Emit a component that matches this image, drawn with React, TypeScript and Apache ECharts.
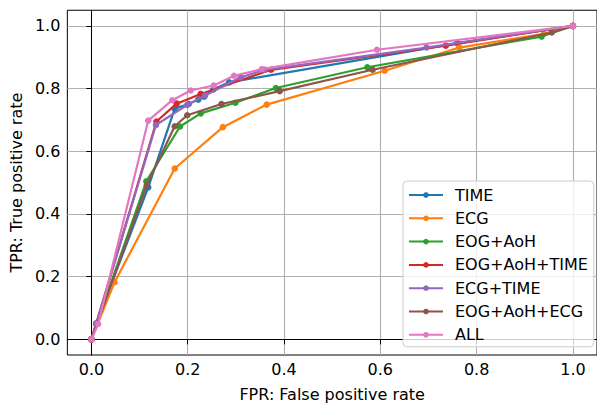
import React, { useEffect, useRef } from "react";
import * as echarts from "echarts";

const tickValues = [0, 0.2, 0.4, 0.6, 0.8, 1.0];
const seriesNames = ["TIME", "ECG", "EOG+AoH", "EOG+AoH+TIME", "ECG+TIME", "EOG+AoH+ECG", "ALL"];
const colors = ["#1f77b4", "#ff7f0e", "#2ca02c", "#d62728", "#9467bd", "#8c564b", "#e377c2"];

const timeFpr = [0, 0.01, 0.118, 0.173, 0.202, 0.222, 0.234, 0.253, 0.286, 0.76, 1];
const timeTpr = [0, 0.05, 0.485, 0.736, 0.751, 0.765, 0.774, 0.797, 0.82, 0.945, 1];
const ecgFpr = [0, 0.048, 0.173, 0.273, 0.364, 0.609, 0.764, 0.94, 1];
const ecgTpr = [0, 0.182, 0.545, 0.677, 0.749, 0.857, 0.931, 0.975, 1];
const eogFpr = [0, 0.114, 0.184, 0.227, 0.299, 0.383, 0.573, 0.935, 1];
const eogTpr = [0, 0.504, 0.679, 0.721, 0.755, 0.802, 0.868, 0.966, 1];
const eogTimeFpr = [0, 0.01, 0.135, 0.177, 0.227, 0.373, 0.736, 1];
const eogTimeTpr = [0, 0.05, 0.695, 0.752, 0.783, 0.86, 0.937, 1];
const ecgTimeFpr = [0, 0.01, 0.134, 0.199, 0.236, 0.31, 0.36, 0.696, 1];
const ecgTimeTpr = [0, 0.05, 0.684, 0.748, 0.778, 0.836, 0.86, 0.931, 1];
const eogEcgFpr = [0, 0.115, 0.173, 0.199, 0.27, 0.391, 0.584, 0.956, 1];
const eogEcgTpr = [0, 0.492, 0.68, 0.715, 0.751, 0.792, 0.86, 0.979, 1];
const allFpr = [0, 0.014, 0.118, 0.168, 0.206, 0.254, 0.296, 0.354, 0.593, 1];
const allTpr = [0, 0.049, 0.698, 0.763, 0.794, 0.81, 0.841, 0.862, 0.924, 1];

const fprs = [timeFpr, ecgFpr, eogFpr, eogTimeFpr, ecgTimeFpr, eogEcgFpr, allFpr];
const tprs = [timeTpr, ecgTpr, eogTpr, eogTimeTpr, ecgTimeTpr, eogEcgTpr, allTpr];

const FONT = "DejaVu Sans";
const FS = 16;

export default function App() {
  const ref = useRef<HTMLDivElement>(null);
  useEffect(() => {
    if (!ref.current) return;
    const chart = echarts.init(ref.current, undefined, { renderer: "svg" });
    const series = seriesNames.map((name, i) => ({
      name,
      type: "line",
      data: fprs[i].map((x, j) => [x, tprs[i][j]]),
      symbol: "circle",
      symbolSize: 6.5,
      showSymbol: true,
      showAllSymbol: true,
      lineStyle: { width: 2.2, color: colors[i] },
      itemStyle: { color: colors[i] },
      emphasis: { disabled: true },
      z: 2 + i,
    }));
    const axisCommon = {
      type: "value",
      min: -0.05,
      max: 1.05,
      axisLine: { show: true, lineStyle: { color: "#000", width: 1 } },
      axisTick: {
        show: true,
        length: 5,
        customValues: tickValues,
        lineStyle: { color: "#000", width: 1 },
      },
      axisLabel: {
        customValues: tickValues,
        color: "#000",
        fontFamily: FONT,
        fontSize: FS,
        formatter: (v: number) => v.toFixed(1),
      },
      splitLine: { show: true, lineStyle: { color: "#b0b0b0", width: 1.1 } },
      nameLocation: "middle",
      nameTextStyle: { color: "#000", fontFamily: FONT, fontSize: FS },
    };
    chart.setOption({
      animation: false,
      textStyle: { fontFamily: FONT },
      color: colors,
      grid: {
        left: 66.4,
        top: 10.25,
        width: 535,
        height: 346.5,
        show: true,
        borderColor: "#000",
        borderWidth: 1,
        backgroundColor: "transparent",
        containLabel: false,
      },
      xAxis: {
        ...axisCommon,
        name: "FPR: False positive rate",
        nameGap: 31,
        axisLabel: { ...axisCommon.axisLabel, margin: 6 },
      },
      yAxis: {
        ...axisCommon,
        name: "TPR: True positive rate",
        nameGap: 42,
        axisLabel: { ...axisCommon.axisLabel, margin: 7 },
      },
      legend: {
        orient: "vertical",
        left: 403,
        top: 181,
        data: seriesNames,
        itemWidth: 34,
        itemHeight: 7,
        itemGap: 5.3,
        padding: [5, 6, 3, 5],
        backgroundColor: "rgba(255,255,255,0.8)",
        borderColor: "#cccccc",
        borderWidth: 1,
        borderRadius: 4,
        textStyle: {
          color: "#000",
          fontFamily: FONT,
          fontSize: FS,
          lineHeight: 18,
          padding: [0, 0, 0, 7],
        },
      },
      series,
    });
    return () => chart.dispose();
  }, []);
  return (
    <div
      ref={ref}
      style={{ position: "fixed", left: 0, top: 0, width: 597, height: 407, background: "#fff" }}
    />
  );
}
